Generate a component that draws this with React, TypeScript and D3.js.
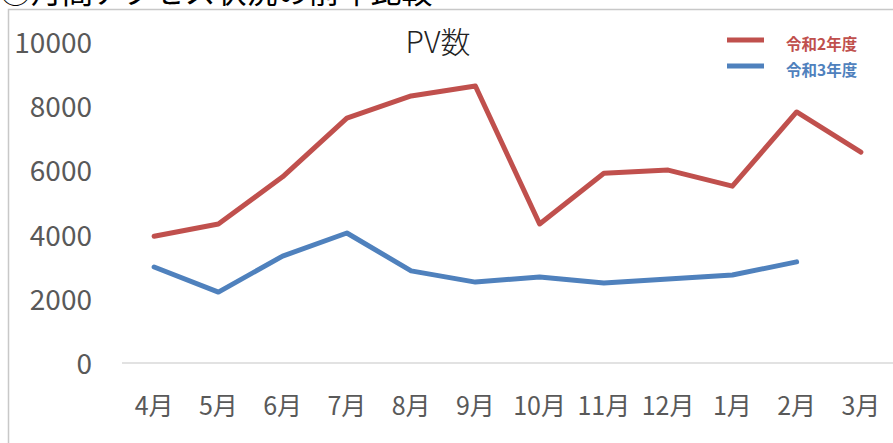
import React from "react";
import * as d3 from "d3";

const months = ["4月", "5月", "6月", "7月", "8月", "9月", "10月", "11月", "12月", "1月", "2月", "3月"];
const r2 = [3950, 4330, 5800, 7630, 8320, 8630, 4330, 5910, 6010, 5510, 7820, 6570];
const r3 = [2990, 2210, 3330, 4050, 2870, 2520, 2680, 2490, 2620, 2740, 3150, null];
const yTicks = [0, 2000, 4000, 6000, 8000, 10000];
const seriesNames = ["令和2年度", "令和3年度"];
const colors = ["#C0504D", "#4F81BD"];

const W = 893;
const H = 443;
const font = "'Noto Sans CJK JP', 'Noto Sans', sans-serif";

export default function App() {
  const x = d3.scaleBand().domain(months).range([122, 893]);
  const y = d3.scaleLinear().domain([0, 10000]).range([363, 42]);

  const line = d3
    .line<number | null>()
    .defined(d => d != null)
    .x((d, i) => (x(months[i]) as number) + x.bandwidth() / 2)
    .y(d => y(d as number));

  const series = [r2, r3];

  return (
    <svg
      width={W}
      height={H}
      style={{ position: "absolute", left: 0, top: 0, background: "#fff" }}
      fontFamily={font}
    >
      {/* title of the sheet, mostly cropped off at the top */}
      <text x={0} y={3} fontSize={31} fill="#000">
        ③月間アクセス状況の前年比較
      </text>
      <rect x={8.5} y={9.5} width={900} height={460} fill="#fff" stroke="#c8c8c8" strokeWidth={1.5} />

      <text x={438} y={40} fontSize={30} fill="#222" textAnchor="middle" dominantBaseline="central" fontWeight={300}>
        PV数
      </text>

      <line x1={122} x2={893} y1={y(0)} y2={y(0)} stroke="#d9d9d9" strokeWidth={1.5} />

      {yTicks.map(t => (
        <text
          key={t}
          x={92}
          y={y(t) - 1}
          textAnchor="end"
          dominantBaseline="central"
          fontSize={28}
          fill="#595959"
        >
          {t}
        </text>
      ))}

      {months.map(m => (
        <text
          key={m}
          x={(x(m) as number) + x.bandwidth() / 2}
          y={404}
          textAnchor="middle"
          dominantBaseline="central"
          fontSize={25}
          fill="#595959"
        >
          {m}
        </text>
      ))}

      {series.map((s, i) => (
        <path
          key={i}
          d={line(s) || ""}
          fill="none"
          stroke={colors[i]}
          strokeWidth={5}
          strokeLinejoin="round"
          strokeLinecap="round"
        />
      ))}

      {seriesNames.map((n, i) => (
        <g key={n} transform={`translate(0, ${40 + i * 26})`}>
          <line x1={727} x2={764} y1={0} y2={0} stroke={colors[i]} strokeWidth={5} />
          <text x={786} y={3} fontSize={15.5} fontWeight="bold" fill={colors[i]} dominantBaseline="central">
            {n}
          </text>
        </g>
      ))}
    </svg>
  );
}
